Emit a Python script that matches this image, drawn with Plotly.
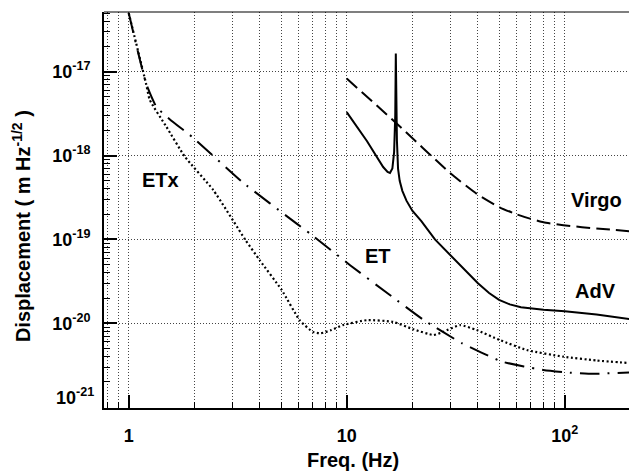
import plotly.graph_objects as go

# ---- data ----
etx_f = [1.0, 1.2, 1.25, 1.49, 1.81, 2.44, 3.42, 4.0, 5.03, 6.1, 7.0, 7.6, 8.5, 9.6,
         12.4, 16.3, 20.2, 25.0, 27.7, 33.1, 39.5, 50.5, 67.0, 98.6, 140.0, 200.0]
etx_d = [5.0e-17, 7.3e-18, 4.6e-18, 2.2e-18, 9.7e-19, 3.9e-19, 1.0e-19, 5.6e-20, 2.5e-20,
         1.08e-20, 7.9e-21, 7.6e-21, 8.3e-21, 9.5e-21, 1.09e-20, 1.04e-20, 8.5e-21,
         7.25e-21, 7.9e-21, 9.5e-21, 8.3e-21, 6.3e-21, 4.8e-21, 4.0e-21, 3.6e-21, 3.35e-21]

et_f = [1.0, 1.2, 1.34, 1.57, 1.95, 3.3, 6.0, 6.8, 10.4, 15.5, 22.5, 33.7, 51.4, 65.0,
        79.8, 100.0, 135.0, 200.0]
et_d = [5.0e-17, 7.3e-18, 3.8e-18, 2.6e-18, 1.68e-18, 4.9e-19, 1.49e-19, 1.17e-19,
        4.9e-20, 2.25e-20, 1.1e-20, 5.8e-21, 3.5e-21, 3.05e-21, 2.77e-21, 2.6e-21,
        2.5e-21, 2.6e-21]

virgo_f = [10.0, 16.9, 29.8, 39.5, 50.5, 60.0, 69.3, 80.0, 98.6, 120.0, 150.0, 200.0]
virgo_d = [8.3e-18, 2.43e-18, 6.2e-19, 3.5e-19, 2.4e-19, 2.0e-19, 1.77e-19, 1.6e-19,
           1.48e-19, 1.4e-19, 1.33e-19, 1.25e-19]

adv_f = [10.0, 12.4, 14.7, 15.4, 15.8, 16.2, 16.5, 16.7, 16.8, 16.9, 17.0, 17.2, 17.5,
         18.0, 18.8, 20.0, 22.0, 25.4, 30.0, 35.0, 40.0, 45.0, 50.0, 56.0, 63.0, 80.0,
         100.0, 140.0, 200.0]
adv_d = [3.3e-18, 1.48e-18, 7.3e-19, 6.4e-19, 6.2e-19, 7.0e-19, 1.1e-18, 3.0e-18, 1.65e-17,
         3.0e-18, 1.5e-18, 7.0e-19, 5.0e-19, 3.8e-19, 2.9e-19, 2.2e-19, 1.65e-19, 1.0e-19,
         6.5e-20, 4.3e-20, 3.0e-20, 2.3e-20, 1.9e-20, 1.68e-20, 1.55e-20, 1.45e-20,
         1.39e-20, 1.27e-20, 1.12e-20]

x_tickvals = [1, 10, 100]
x_ticktext = ["1", "10", "10<sup>2</sup>"]
y_tickvals = [1e-21, 1e-20, 1e-19, 1e-18, 1e-17]
y_ticktext = ["", "10<sup>-20</sup>", "10<sup>-19</sup>",
              "10<sup>-18</sup>", "10<sup>-17</sup>"]
y_bottom_label = "10<sup>-21</sup>"   # drawn slightly raised, as in the reference

x_minor = [0.8, 0.9] + [k for k in range(2, 10)] + [10 * k for k in range(2, 10)] + [200]
y_minor = [k * 10.0 ** e for e in range(-21, -16) for k in range(2, 10)]

FONT = "Liberation Sans, Arial, Helvetica, sans-serif"

fig = go.Figure()
fig.add_trace(go.Scatter(x=etx_f, y=etx_d, mode="lines",
                         line=dict(color="black", width=2.2, dash="2px,2.5px",
                                   shape="spline", smoothing=0.5)))
fig.add_trace(go.Scatter(x=et_f, y=et_d, mode="lines",
                         line=dict(color="black", width=2, dash="20px,8px,2px,8px",
                                   shape="spline", smoothing=0.4)))
fig.add_trace(go.Scatter(x=virgo_f, y=virgo_d, mode="lines",
                         line=dict(color="black", width=2, dash="14px,6px",
                                   shape="spline", smoothing=0.5)))
fig.add_trace(go.Scatter(x=adv_f, y=adv_d, mode="lines",
                         line=dict(color="black", width=2)))

grid = dict(gridcolor="#444", gridwidth=1, griddash="1px,2px")
tick_font = dict(family=FONT, size=18, color="black", weight="bold")

fig.update_xaxes(type="log", range=[-0.1133, 2.295],
                 tickmode="array", tickvals=x_tickvals, ticktext=x_ticktext,
                 ticks="inside", ticklen=13, tickwidth=1.5, tickcolor="black",
                 ticklabelstandoff=10,
                 showline=True, linewidth=2, linecolor="black",
                 showgrid=True, **grid,
                 minor=dict(tickmode="array", tickvals=x_minor, ticks="inside",
                            ticklen=6, tickwidth=1, tickcolor="black",
                            showgrid=True, **grid),
                 tickfont=tick_font, zeroline=False)
fig.update_yaxes(type="log", range=[-21.01, -16.288],
                 tickmode="array", tickvals=y_tickvals, ticktext=y_ticktext,
                 ticks="inside", ticklen=13, tickwidth=1.5, tickcolor="black",
                 ticklabelstandoff=8,
                 showline=True, linewidth=2, linecolor="black",
                 showgrid=True, **grid,
                 minor=dict(tickmode="array", tickvals=y_minor, ticks="inside",
                            ticklen=6, tickwidth=1, tickcolor="black",
                            showgrid=False),
                 tickfont=tick_font, zeroline=False)

fig.add_annotation(text=y_bottom_label, x=-0.0152, y=0.028, xref="paper", yref="paper",
                   showarrow=False, font=tick_font, xanchor="right", yanchor="middle")

ann_font = dict(family=FONT, size=20, color="black", weight="bold")
labels = [("ETx", 0.1067, 0.5758), ("ET", 0.522, 0.384),
          ("Virgo", 0.9385, 0.525), ("AdV", 0.937, 0.2967)]
for txt, ax, ay in labels:
    fig.add_annotation(text=txt, x=ax, y=ay, xref="paper", yref="paper",
                       showarrow=False, font=ann_font, xanchor="center", yanchor="middle")

fig.add_annotation(text="Freq. (Hz)", x=0.474, y=-0.131, xref="paper", yref="paper",
                   showarrow=False, font=ann_font, xanchor="center", yanchor="middle")
fig.add_annotation(text="Displacement ( m Hz<sup>-1/2</sup> )", x=-0.156, y=0.4596,
                   xref="paper", yref="paper", textangle=-90,
                   showarrow=False, font=ann_font, xanchor="center", yanchor="middle")

fig.add_shape(type="line", xref="paper", yref="paper", x0=0, x1=1, y0=1, y1=1,
              line=dict(color="black", width=1.2))

fig.update_layout(width=629, height=472, margin=dict(l=104, r=0, t=12, b=64),
                  plot_bgcolor="white", paper_bgcolor="white", showlegend=False)

fig.write_html("out.html")
